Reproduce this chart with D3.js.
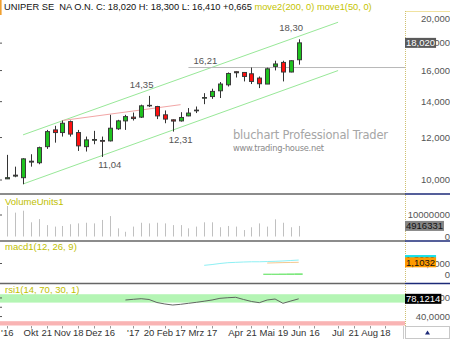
<!DOCTYPE html>
<html><head><meta charset="utf-8">
<script src="https://cdn.jsdelivr.net/npm/d3@7"></script>
<style>html,body{margin:0;padding:0;background:#fff;overflow:hidden}svg{display:block;font-family:"Liberation Sans",Arial,sans-serif}</style>
</head><body><svg id="c" width="450" height="339"></svg>
<script>
// ---- data (weekly candles, first week = 12 Sep 2016) ----
const opens  = [10.05,10.17,10.10,10.80,10.77,11.54,12.40,12.26,12.85,12.26,11.54,11.86,11.85,11.83,12.46,12.89,13.10,13.10,13.75,13.71,13.23,12.95,12.89,13.17,13.46,14.21,14.31,14.67,15.05,15.92,15.87,15.78,15.49,15.10,16.29,16.57,15.90,16.76];
const highs  = [11.14,10.59,10.98,11.17,11.54,12.40,12.62,12.91,12.91,12.40,12.05,12.35,12.05,13.23,12.95,13.23,13.36,13.82,14.35,13.75,13.48,12.97,13.38,13.62,13.71,14.52,14.80,15.23,15.87,15.94,15.90,16.21,15.60,16.20,16.69,16.69,16.72,18.30];
const lows   = [10.04,10.12,9.82,10.59,10.70,11.43,11.74,12.05,12.05,11.33,11.30,11.66,11.04,11.80,12.40,12.40,12.91,13.05,13.68,12.99,12.76,12.31,12.85,13.15,13.33,13.85,14.17,14.22,14.94,15.53,15.27,15.10,14.84,15.10,16.01,15.27,15.88,16.41];
const closes = [10.10,10.21,10.95,10.84,11.49,12.31,12.26,12.76,12.18,11.58,11.88,11.90,11.81,12.49,12.89,13.13,13.02,13.75,13.78,13.17,12.99,12.88,13.08,13.33,13.50,14.25,14.63,15.10,15.80,15.85,15.60,15.27,15.12,16.12,16.46,15.90,16.69,18.02];
const volumes = [14200000,11100000,12000000,6600000,8100000,5300000,4600000,4900000,5700000,6100000,6400000,6100000,7700000,9500000,3800000,2200000,4600000,6400000,6100000,6400000,6100000,5300000,5300000,3800000,4600000,6600000,6600000,4300000,4900000,4600000,3000000,4300000,6100000,4600000,8000000,6400000,4300000,4916331];
const macdStart = 25;
const macdValues = [0.84,0.91,1.00,1.07,1.10,1.13,1.15,1.15,1.17,1.19,1.22,1.26,1.30];
const signalStart = 33;
const signalValues = [1.04,1.06,1.08,1.09,1.1032];
const histValues = [0.12,0.12,0.13,0.14,0.15];
const rsiStart = 15;
const rsiValues = [75.6,77.1,78.4,76.7,70.2,67.0,64.8,66.3,68.5,70.6,73.0,75.6,79.2,80.5,81.4,76.7,72.4,69.8,75.6,77.7,68.5,73.4,78.1214];
const priceTicks = [10,12,14,16,18,20];
const priceTickLabels = ["10,000","12,000","14,000","16,000","18,000","20,000"];
const volTicks = [0,10000000];
const volTickLabels = ["0","10000000"];
const macdTicks = [0,1];
const macdTickLabels = ["0","1,0000"];
const rsiTicks = [40,80];
const rsiTickLabels = ["40,0000","80,0000"];
const rsiLeftTicks = [40,60,80];
const dateTickWeeks = [0,3,5,7,9,11,13,16,18,20,22,24,26,29,31,33,35,37,39,42,44,46,48];
const dateTickLabels = ["'16","Okt","21","Nov","18","Dez","16","'17","20","Feb","17","Mrz","17","Apr","21","Mai","19","Jun","16","Jul","21","Aug","18"];
const channelUpper = [[2,12.14],[42,19.69]];
const channelLower = [[2,9.83],[42,16.0]];
const trendLine = [[7,12.91],[22,13.82]];
const levelValue = 16.21, levelStart = 23;
const highMarks = [18,37];
const lowMarks = [12,21];
const rsiBands = [[70,88,"#b4f5b4"],[30,10,"#f9b4b4"]];

const svg = d3.select("#c");
const fmt = v => v.toFixed(2).replace(".", ",");
const W = 405;
const x = d3.scaleLinear().domain([0,37]).range([7.3,298.7]);
const yP = d3.scaleLog().domain([10,20]).range([180,18.6]);
const yV = d3.scaleLinear().domain([0,10000000]).range([236.5,215]);
const yM = d3.scaleLinear().domain([0,1]).range([275,263.5]);
const yR = d3.scaleLinear().domain([30,70]).range([321.2,302.6]);

// header
svg.append("rect").attr("x",0).attr("y",0).attr("width",1.6).attr("height",15).attr("fill","#f0a030");
const hd = svg.append("text").attr("x",4).attr("y",9.5).attr("font-size",9.3).style("white-space","pre");
hd.append("tspan").attr("fill","#111").text("UNIPER SE  NA O.N. C: 18,020 H: 18,300 L: 16,410 +0,665 ");
hd.append("tspan").attr("fill","#c4c400").text("move2(200, 0) move1(50, 0)");

// rsi bands
svg.append("clipPath").attr("id","rc").append("rect").attr("x",0).attr("y",284).attr("width",W).attr("height",41.5);
rsiBands.forEach(b=>{
  svg.append("rect").attr("clip-path","url(#rc)").attr("x",0).attr("width",W)
    .attr("y",yR(Math.max(b[0],b[1]))).attr("height",Math.abs(yR(b[0])-yR(b[1]))).attr("fill",b[2]);
});

// watermark
svg.append("text").attr("x",233).attr("y",139).attr("font-family","DejaVu Sans").attr("font-size",11.5)
  .attr("fill","#a6a6a6").attr("textLength",155).attr("lengthAdjust","spacing").text("bluchart Professional Trader");
svg.append("text").attr("x",233).attr("y",150.5).attr("font-family","DejaVu Sans").attr("font-size",8.3)
  .attr("fill","#8a8a8a").attr("textLength",91).attr("lengthAdjust","spacing").text("www.trading-house.net");

// channel / trend lines
const ln = (pts,col)=>svg.append("line").attr("x1",x(pts[0][0])).attr("y1",yP(pts[0][1]))
  .attr("x2",x(pts[1][0])).attr("y2",yP(pts[1][1])).attr("stroke",col).attr("stroke-width",1);
ln(channelUpper,"#98e898"); ln(channelLower,"#98e898"); ln(trendLine,"#f2a6a6");
svg.append("line").attr("x1",x(levelStart)).attr("x2",W).attr("y1",yP(levelValue)).attr("y2",yP(levelValue))
  .attr("stroke","#b8b8b8").attr("stroke-width",1);
svg.append("text").attr("x",x(levelStart)+5).attr("y",yP(levelValue)-4).attr("font-size",9.5).attr("fill","#555").text(fmt(levelValue));

// candles
const idx = d3.range(opens.length);
const cg = svg.append("g");
idx.forEach(i=>{
  const o=opens[i],c=closes[i],up=c>=o;
  cg.append("line").attr("x1",Math.round(x(i))+0.5).attr("x2",Math.round(x(i))+0.5)
    .attr("y1",yP(highs[i])).attr("y2",yP(lows[i])).attr("stroke","#333").attr("stroke-width",1);
  const top=yP(Math.max(o,c)), bot=yP(Math.min(o,c));
  cg.append("rect").attr("x",Math.round(x(i))-1.5).attr("y",top).attr("width",4)
    .attr("height",Math.max(0.5,bot-top)).attr("fill",up?"#1ec21e":"#ff1010").attr("stroke","#3a3a3a").attr("stroke-width",1);
});
highMarks.forEach(i=>svg.append("text").attr("x",x(i)-7.5).attr("y",yP(highs[i])-8).attr("text-anchor","middle")
  .attr("font-size",9.5).attr("fill","#555").text(fmt(highs[i])));
lowMarks.forEach(i=>svg.append("text").attr("x",x(i)+8).attr("y",yP(lows[i])+11).attr("text-anchor","middle")
  .attr("font-size",9.5).attr("fill","#555").text(fmt(lows[i])));

// volume
svg.append("g").selectAll("rect").data(idx).join("rect")
  .attr("x",i=>Math.round(x(i))).attr("width",1).attr("y",i=>yV(volumes[i])).attr("height",i=>yV(0)-yV(volumes[i]))
  .attr("fill","#c0c0c0");

// macd
svg.append("g").selectAll("rect").data(histValues).join("rect")
  .attr("x",(d,k)=>x(signalStart+k)-3.94).attr("width",7.9).attr("y",d=>yM(d)).attr("height",d=>yM(0)-yM(d)).attr("fill","#7ee87e");
svg.append("path").datum(macdValues).attr("fill","none").attr("stroke","#8ef0f4").attr("stroke-width",1)
  .attr("d",d3.line().x((d,k)=>x(macdStart+k)).y(d=>yM(d)));
svg.append("path").datum(signalValues).attr("fill","none").attr("stroke","#f4c890").attr("stroke-width",1)
  .attr("d",d3.line().x((d,k)=>x(signalStart+k)).y(d=>yM(d)));

// rsi
svg.append("path").datum(rsiValues).attr("fill","none").attr("stroke","#555").attr("stroke-width",0.9)
  .attr("d",d3.line().x((d,k)=>x(rsiStart+k)).y(d=>yR(d)));

// panel labels
[["VolumeUnits1",204.5],["macd1(12, 26, 9)",250],["rsi1(14, 70, 30, 1)",292.5]].forEach(l=>
  svg.append("text").attr("x",5).attr("y",l[1]).attr("font-size",9.5).attr("fill","#c0c000").text(l[0]));

// right axis frame
svg.append("line").attr("x1",W).attr("x2",450).attr("y1",11.5).attr("y2",11.5).attr("stroke","#f0e2a0");
svg.append("line").attr("x1",W+0.5).attr("x2",W+0.5).attr("y1",11).attr("y2",326).attr("stroke","#cfc070").attr("stroke-dasharray","1,1");
[194,241,283.5].forEach(yy=>{
  svg.append("line").attr("x1",0).attr("x2",W).attr("y1",yy).attr("y2",yy).attr("stroke","#666").attr("stroke-width",1.6);
  svg.append("line").attr("x1",W).attr("x2",450).attr("y1",yy).attr("y2",yy).attr("stroke","#1c2a78").attr("stroke-width",1.6);
});

// axis labels + left ticks
const axisLabels=(ticks,labels,sc)=>ticks.forEach((t,k)=>{
  svg.append("text").attr("x",450).attr("y",sc(t)).attr("dy","0.35em").attr("text-anchor","end")
    .attr("font-size",9.5).attr("fill","#555").text(labels[k]);
});
const leftTicks=(ticks,sc)=>ticks.forEach(t=>svg.append("line").attr("x1",0).attr("x2",2).attr("y1",sc(t)).attr("y2",sc(t)).attr("stroke","#555"));
axisLabels(priceTicks,priceTickLabels,yP); leftTicks(priceTicks.slice(0,5),yP);
axisLabels(volTicks,volTickLabels,yV); leftTicks([10000000],yV);
axisLabels(macdTicks,macdTickLabels,yM); leftTicks([1],yM);
axisLabels(rsiTicks,rsiTickLabels,yR); leftTicks(rsiLeftTicks,yR);

// value boxes (width from text)
const box=(v,sc,txt,bg,fg)=>{
  const cy=sc(v);
  const r=svg.append("rect").attr("x",W).attr("y",cy-5).attr("height",10).attr("fill",bg);
  const t=svg.append("text").attr("x",W+1).attr("y",cy).attr("dy","0.36em").attr("font-size",9.5).attr("fill",fg).text(txt);
  r.attr("width",t.node().getComputedTextLength()+2);
};
box(closes[37],yP,"18,020","#5a5a5a","#fff");
box(volumes[37],yV,"4916331","#858585","#111");
box(macdValues[macdValues.length-1],yM,"1,3000","#16e0e8","#111");
box(signalValues[4],yM,"1,1032","#ff9a00","#111");
box(rsiValues[rsiValues.length-1],yR,"78,1214","#000","#fff");

// x axis
svg.append("line").attr("x1",W-1.5).attr("x2",W-1.5).attr("y1",326).attr("y2",339).attr("stroke","#ccc");
svg.append("rect").attr("x",W+0.5).attr("y",326.5).attr("width",44).attr("height",12).attr("fill","#fff").attr("stroke","#c8c8c8");
svg.append("path").attr("d","M425,334.5 L427.5,330.5 L430,334.5 Z").attr("fill","#1c2a78");
dateTickWeeks.forEach((w,k)=>{
  svg.append("line").attr("x1",Math.round(x(w))+0.5).attr("x2",Math.round(x(w))+0.5).attr("y1",326).attr("y2",328.5).attr("stroke","#999");
  svg.append("text").attr("x",Math.max(x(w),6)).attr("y",336).attr("text-anchor","middle").attr("font-size",9.5).attr("fill","#333").text(dateTickLabels[k]);
});
</script></body></html>
